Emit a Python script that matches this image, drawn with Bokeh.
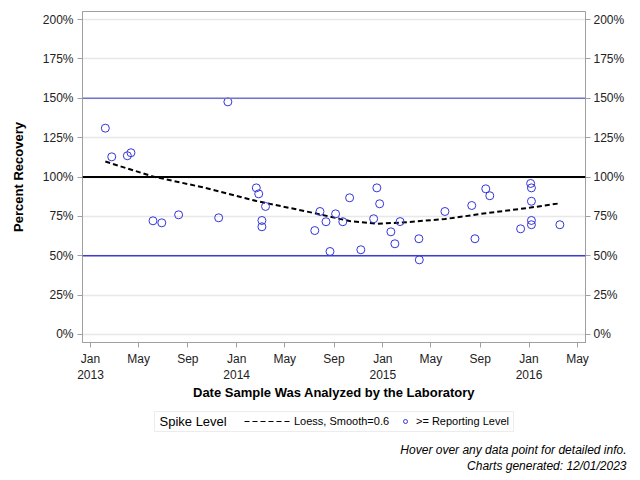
import pandas as pd
from bokeh.plotting import figure
from bokeh.layouts import column
from bokeh.models import (Span, Legend, LegendItem, LinearAxis, FixedTicker,
                          PrintfTickFormatter, Range1d, Label, BoxAnnotation)
from bokeh.embed import file_html
from bokeh.resources import INLINE

# ---- data ----
sample_dates = ["2013-02-07", "2013-02-23", "2013-04-03", "2013-04-12", "2013-06-06",
                "2013-06-28", "2013-08-09", "2013-11-17", "2013-12-10", "2014-02-19",
                "2014-02-25", "2014-03-05", "2014-03-05", "2014-03-14", "2014-07-15",
                "2014-07-28", "2014-08-12", "2014-08-22", "2014-09-05", "2014-09-23",
                "2014-10-10", "2014-11-07", "2014-12-09", "2014-12-17", "2014-12-24",
                "2015-01-21", "2015-01-31", "2015-02-13", "2015-04-01", "2015-04-02",
                "2015-06-05", "2015-08-11", "2015-08-19", "2015-09-15", "2015-09-25",
                "2015-12-11", "2016-01-05", "2016-01-07", "2016-01-07", "2016-01-07",
                "2016-01-07", "2016-03-18"]
recovery = [131.0, 112.8, 113.5, 115.4, 72.2,
            70.9, 76.0, 74.1, 147.7, 93.1,
            89.3, 72.4, 68.4, 81.3, 66.0,
            78.1, 71.6, 52.7, 76.6, 71.6,
            86.8, 53.8, 73.5, 93.1, 83.0,
            65.2, 57.6, 71.7, 60.8, 47.4,
            78.1, 81.9, 60.8, 92.5, 88.1,
            67.1, 95.9, 93.1, 84.6, 72.4,
            69.7, 69.7]

loess_dates = ["2013-02-07", "2013-06-06", "2013-10-08", "2014-02-19", "2014-07-15",
               "2014-10-10", "2014-12-17", "2015-02-13", "2015-06-05", "2015-09-15",
               "2016-01-05", "2016-03-18"]
loess_vals = [109.8, 100.3, 93.5, 84.8, 77.0,
              72.0, 70.3, 71.0, 73.3, 77.0,
              80.6, 83.3]

tick_months = ["2013-01-01", "2013-05-01", "2013-09-01", "2014-01-01", "2014-05-01",
               "2014-09-01", "2015-01-01", "2015-05-01", "2015-09-01", "2016-01-01",
               "2016-05-01"]
tick_labels = ["Jan\n2013", "May", "Sep", "Jan\n2014", "May", "Sep", "Jan\n2015",
               "May", "Sep", "Jan\n2016", "May"]
y_ticks = [0, 25, 50, 75, 100, 125, 150, 175, 200]
upper_limit = 150
spike_level = 100
lower_limit = 50

origin = pd.Timestamp("2013-01-01")
def days(lst):
    return [(pd.Timestamp(d) - origin).days for d in lst]

x_pts = days(sample_dates)
x_loess = days(loess_dates)
x_ticks = days(tick_months)

FONT = "Liberation Sans"
PT_COLOR = "#3535d8"
NAN = float("nan")

# ---------------- main chart ----------------
p = figure(frame_width=503, frame_height=331, output_backend="svg", toolbar_location=None,
           x_range=Range1d(-20, 1236), y_range=Range1d(-5.08, 205.08),
           min_border_left=82, min_border_right=55, min_border_top=11, min_border_bottom=64)
p.frame_align = False
p.background_fill_color = "white"
p.border_fill_color = "white"
p.outline_line_color = "#a0a0a0"
p.xgrid.visible = False
p.ygrid.ticker = FixedTicker(ticks=y_ticks)
p.ygrid.grid_line_color = "#e8e8e8"
p.ygrid.grid_line_width = 1.5

xa = p.xaxis[0]
xa.ticker = FixedTicker(ticks=x_ticks)
xa.major_label_overrides = {t: l for t, l in zip(x_ticks, tick_labels)}
xa.axis_label = "Date Sample Was Analyzed by the Laboratory"

ya = p.yaxis[0]
ya.ticker = FixedTicker(ticks=y_ticks)
ya.formatter = PrintfTickFormatter(format="%d%%")
ya.axis_label = "Percent Recovery"
ry = LinearAxis(ticker=FixedTicker(ticks=y_ticks), formatter=PrintfTickFormatter(format="%d%%"))
p.add_layout(ry, "right")

for ax in [xa, ya, ry]:
    ax.axis_line_color = "#a0a0a0"
    ax.major_tick_line_color = "#a0a0a0"
    ax.major_tick_out = 5
    ax.major_tick_in = 0
    ax.minor_tick_line_color = None
    ax.major_label_text_font = FONT
    ax.major_label_text_font_size = "12px"
    ax.major_label_text_color = "#222222"
    ax.axis_label_text_font = FONT
    ax.axis_label_text_font_size = "13px"
    ax.axis_label_text_font_style = "bold"
    ax.axis_label_text_color = "black"
xa.major_label_standoff = 4
xa.axis_label_standoff = 0
ya.major_label_standoff = 4
ya.axis_label_standoff = 14
ry.major_label_standoff = 3

p.add_layout(Span(location=upper_limit, dimension="width", line_color="#7474cc", line_width=1.5))
p.add_layout(Span(location=spike_level, dimension="width", line_color="black", line_width=2))
p.add_layout(Span(location=lower_limit, dimension="width", line_color="#3c3cd6", line_width=1.5))

p.line(x_loess, loess_vals, line_color="black", line_width=2, line_dash="5 3")
p.scatter(x_pts, recovery, marker="circle", size=8, fill_color=None,
          line_color=PT_COLOR, line_width=1)

# ---------------- legend + footnotes strip (pixel coordinates) ----------------
p2 = figure(width=640, height=74, output_backend="svg", toolbar_location=None,
            x_range=Range1d(0, 640), y_range=Range1d(0, 74),
            x_axis_type=None, y_axis_type=None,
            min_border_left=0, min_border_right=0, min_border_top=0, min_border_bottom=0)
p2.frame_align = False
p2.outline_line_color = None
p2.grid.visible = False
p2.background_fill_color = "white"
p2.border_fill_color = "white"

# legend proxies (NaN data: nothing drawn in the strip itself)
lg_loess = p2.line([NAN, NAN], [NAN, NAN], line_color="black", line_width=1.2, line_dash="5 3")
lg_pts = p2.scatter([NAN], [NAN], marker="circle", size=7, fill_color=None,
                    line_color=PT_COLOR, line_width=1)

p2.add_layout(BoxAnnotation(left=154, right=513, bottom=49, top=69,
                            fill_alpha=0, line_color="#c0c0c0", line_width=1))
p2.add_layout(Label(x=159, y=59, text="Spike Level", text_font=FONT,
                    text_font_size="13px", text_baseline="middle", text_align="left",
                    text_color="black"))

common = dict(orientation="horizontal", border_line_color=None,
              background_fill_alpha=0, padding=0, margin=0, spacing=0,
              label_text_font=FONT, label_text_font_size="11px", label_text_color="black",
              glyph_height=12, label_height=12)
p2.add_layout(Legend(items=[LegendItem(label="Loess, Smooth=0.6", renderers=[lg_loess])],
                     location=(244, 53), glyph_width=46, label_standoff=4, **common))
p2.add_layout(Legend(items=[LegendItem(label=">= Reporting Level", renderers=[lg_pts])],
                     location=(400, 53), glyph_width=10, label_standoff=6, **common))

p2.add_layout(Label(x=626, y=31, text="Hover over any data point for detailed info.",
                    text_font=FONT, text_font_size="12px", text_font_style="italic",
                    text_align="right", text_baseline="alphabetic", text_color="black"))
p2.add_layout(Label(x=626, y=15, text="Charts generated: 12/01/2023",
                    text_font=FONT, text_font_size="12px", text_font_style="italic",
                    text_align="right", text_baseline="alphabetic", text_color="black"))

layout = column(p, p2, spacing=0)
open("out.html", "w").write(file_html(layout, INLINE))
